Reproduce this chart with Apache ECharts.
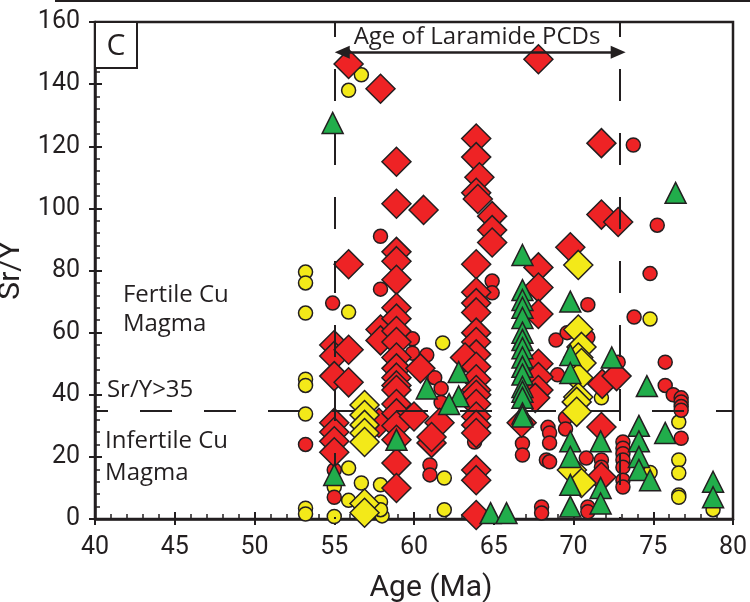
<!DOCTYPE html>
<html><head><meta charset="utf-8">
<script src="https://cdn.jsdelivr.net/npm/echarts@6/dist/echarts.min.js"></script>
<style>html,body{margin:0;padding:0;background:#fff}#c{width:750px;height:602px}</style>
</head><body><div id="c"></div>
<script>
// ---- tick labels ----
const xTickLabels = [40, 45, 50, 55, 60, 65, 70, 75, 80];
const yTickLabels = [0, 20, 40, 60, 80, 100, 120, 140, 160];

// ---- data: [Age (Ma), Sr/Y] ----
const redDiamonds = [
  [55.0,56],[55.0,52.5],[55.0,46],[55.0,31],[55.0,28],[55.0,25],[55.0,21.5],
  [55.9,146.5],[55.9,82],[55.9,54.5],[55.9,44],
  [57.9,138.5],[57.9,61],[57.9,57.5],[57.8,31],
  [58.9,115],[58.9,101.5],[58.9,86],[58.9,83],[58.9,77],[58.9,68],[58.9,64.5],[58.9,60.5],[58.9,57],
  [58.9,52],[58.9,48.5],[58.9,45.5],[58.9,43],[58.9,41.5],[58.9,37],[58.9,34],[58.9,30],[58.9,25.5],[58.9,18],[58.9,10],
  [60.6,99.5],[60.4,48.5],[60.0,33],[61.1,24.5],[61.6,31],[61.1,26.4],
  [63.9,122.5],[63.9,116.5],[64.1,110],[63.9,105],[64.0,103],[63.9,82],[63.9,73],[63.9,69.5],[63.9,66.5],
  [63.9,60],[63.9,57],[63.9,53],[63.2,52],[63.9,49],[63.9,45],[63.9,41.5],[63.9,40],[63.9,37],[63.9,33],
  [63.9,30.3],[63.9,27.7],[63.9,15.8],[63.9,12.5],[63.9,1.3],
  [64.9,97.5],[64.9,93],[64.9,89],
  [66.75,31],
  [67.8,148],[67.8,81],[67.8,74.5],[67.8,66],[67.8,50],[67.8,45.7],[67.8,41.5],[67.6,39],
  [69.8,87.5],
  [71.75,121],[71.75,98],[71.8,43.5],[71.75,29.6],[71.75,13.5],
  [72.8,95.6],[72.7,46]
];
const redCircles = [
  [53.2,24],[54.9,69.5],[55.0,15.8],[55.0,7],[57.9,91],[57.9,74],[59.9,58],[59.9,53.4],[60.8,52.8],
  [61.0,17.4],[61.0,14.2],[61.3,45.5],[61.7,42],[61.7,37.5],[63.8,24.8],[64.9,76.6],[64.9,72.8],
  [66.8,24.3],[66.8,20.6],[68.3,19],[68.0,3.9],[68.0,1.9],[68.4,29.5],[68.5,27.7],[68.5,24.5],[68.5,18.4],
  [70.8,19.6],[70.9,3.9],[70.9,2.3],[69.5,32.5],[69.5,29],[68.9,57.6],[69.6,60],[70.9,58.5],[70.9,69],
  [69.0,46.4],[72.8,50.5],[73.75,120.4],[75.25,94.6],[74.8,79],[73.8,65],[75.75,50.5],[75.75,43],
  [76.25,40],[76.75,39],[76.75,37.7],[76.75,36.2],[76.75,35],[76.75,26],
  [73.1,24.8],[73.1,22.8],[73.1,21],[73.1,19],[73.1,16.7],[73.1,12.5],[73.1,10.3],[71.75,19],[71.75,16.7]
];
const yellowCircles = [
  [53.2,79.5],[53.2,76],[53.2,66.3],[53.2,45],[53.2,43],[53.2,33.8],[53.2,3.5],[53.2,1.6],
  [56.7,143],[55.9,138],[55.9,66.6],[55.0,10.3],[55.0,0.8],[55.9,16.4],[56.7,11.6],[55.9,6],
  [57.9,11],[57.9,5.5],[58.0,1.0],[57.9,3],[61.8,56.7],[61.9,13.2],[61.9,3],[71.75,39],
  [74.8,64.4],[74.8,15],[76.6,31.2],[76.6,19],[76.6,14.8],[76.6,7.7],[76.6,7],[78.75,3]
];
const yellowDiamonds = [
  [56.9,36.7],[56.9,33.5],[56.9,30.3],[56.9,27.7],[56.9,24.8],[56.9,5],[56.9,2],
  [70.3,81.8],[70.3,61],[70.5,55.4],[70.3,52],[70.5,50.2],[70.3,45.5],[70.3,39.3],[70.2,37.7],[70.2,34.5],
  [69.9,15.8],[70.5,11.6]
];
const greenTriangles = [
  [54.9,127.5],[55.0,14.2],[58.9,25.5],[60.8,42],[62.8,47.3],[62.8,39.5],[62.2,37],[64.8,1.9],[65.8,1.9],
  [66.8,85],[66.8,73.7],[66.8,70.5],[66.8,68],[66.8,64.7],[66.8,60],[66.8,57.6],[66.8,55],[66.8,52],
  [66.8,49],[66.8,46.5],[66.8,42.5],[66.8,41],[66.8,39],[66.8,34],[66.8,33],
  [69.8,70],[69.8,52.8],[69.8,47],[69.8,25],[69.8,20],[69.8,11],[69.8,4],
  [72.4,52],[71.7,25],[71.7,10],[71.7,5],
  [74.1,30],[74.1,25],[74.1,20],[74.1,15.8],[74.8,12.5],[74.6,42.8],[75.75,27.7],
  [78.75,12],[78.75,7],[76.4,105]
];

// ---- reference lines / annotation anchors (data units) ----
const laramideStart = 55, laramideEnd = 72.9, srYThreshold = 35;

const INK = '#231f20';
const NARROW = "'Roboto','Open Sans',sans-serif";
const SANS = "'Open Sans','Noto Sans',sans-serif";

const chart = echarts.init(document.getElementById('c'), null, {renderer: 'canvas'});

function ptStyle(color) {
  return {color: color, borderColor: INK, borderWidth: 1.5, opacity: 1};
}

const option = {
  animation: false,
  backgroundColor: '#fff',
  grid: {left: 95, right: 17, top: 22, bottom: 83, containLabel: false, outerBoundsMode: 'none',
         show: true, borderColor: INK, borderWidth: 2.5, backgroundColor: 'transparent'},
  xAxis: [{
    type: 'value', min: xTickLabels[0], max: xTickLabels[xTickLabels.length-1], interval: 5,
    axisLine: {show: true, onZero: false, lineStyle: {color: INK, width: 2.5}},
    axisTick: {show: true, inside: true, length: 7, lineStyle: {color: INK, width: 2}},
    minorTick: {show: true, splitNumber: 5, length: 5, lineStyle: {color: INK, width: 1.5}},
    splitLine: {show: false},
    axisLabel: {fontFamily: NARROW, fontSize: 25, color: INK, margin: 16},
    name: 'Age (Ma)', nameLocation: 'middle', nameGap: 54,
    nameTextStyle: {fontFamily: NARROW, fontSize: 30, color: INK, padding: [0, 0, 0, 34]}
  }, {
    type: 'value', min: xTickLabels[0], max: xTickLabels[xTickLabels.length-1], interval: 5, position: 'bottom',
    axisLine: {show: false}, axisTick: {show: true, inside: false, length: 6, lineStyle: {color: INK, width: 2}},
    axisLabel: {show: false}, splitLine: {show: false}
  }],
  yAxis: [{
    type: 'value', min: yTickLabels[0], max: yTickLabels[yTickLabels.length-1], interval: 20,
    axisLine: {show: true, onZero: false, lineStyle: {color: INK, width: 2.5}},
    axisTick: {show: true, inside: true, length: 7, lineStyle: {color: INK, width: 2}},
    minorTick: {show: true, splitNumber: 5, length: 5, lineStyle: {color: INK, width: 1.5}},
    splitLine: {show: false},
    axisLabel: {fontFamily: NARROW, fontSize: 25, color: INK, margin: 15},
    name: 'Sr/Y', nameLocation: 'middle', nameGap: 52,
    nameTextStyle: {fontFamily: NARROW, fontSize: 30, color: INK}
  }, {
    type: 'value', min: yTickLabels[0], max: yTickLabels[yTickLabels.length-1], interval: 20, position: 'left',
    axisLine: {show: false}, axisTick: {show: true, inside: false, length: 6, lineStyle: {color: INK, width: 2}},
    axisLabel: {show: false}, splitLine: {show: false}
  }],
  series: [
    {
      type: 'scatter', data: [], z: 1, silent: true,
      markLine: {
        silent: true, symbol: 'none', animation: false,
        label: {show: false},
        data: [
          {xAxis: laramideStart, lineStyle: {color: INK, width: 2, type: [32, 32], dashOffset: 30}},
          {xAxis: laramideEnd, lineStyle: {color: INK, width: 2, type: [32, 32], dashOffset: 30}},
          {yAxis: srYThreshold, lineStyle: {color: INK, width: 2, type: [32, 32], dashOffset: 19}}
        ]
      }
    },
    {
      type: 'scatter', data: [], z: 1, silent: true,
      markLine: {
        silent: true, animation: false, symbol: ['triangle', 'triangle'], symbolSize: [13, 15],
        lineStyle: {color: INK, width: 2.5, type: 'solid'},
        label: {show: false},
        data: [[{coord: [55.5, 150.3]}, {coord: [72.8, 150.3]}]]
      }
    },
    {type: 'scatter', name: 'yc', data: yellowCircles, symbol: 'circle', symbolSize: 14, itemStyle: ptStyle('#F3E919'), z: 2},
    {type: 'scatter', name: 'rc', data: redCircles, symbol: 'circle', symbolSize: 14, itemStyle: ptStyle('#EE2325'), z: 3},
    {type: 'scatter', name: 'rd', data: redDiamonds, symbol: 'diamond', symbolSize: 29, itemStyle: ptStyle('#EE2325'), z: 4},
    {type: 'scatter', name: 'yd', data: yellowDiamonds, symbol: 'diamond', symbolSize: 29, itemStyle: ptStyle('#F3E919'), z: 5},
    {type: 'scatter', name: 'gt', data: greenTriangles, symbol: 'triangle', symbolSize: 21, itemStyle: ptStyle('#21AD4B'), z: 6}
  ]
};
chart.setOption(option);

function px(x, y) { return chart.convertToPixel({gridIndex: 0}, [x, y]); }
const corner = px(40, 160);
const txt = (x, y, text, size, align, vAlign) => {
  const p = px(x, y);
  return {type: 'text', x: p[0], y: p[1], z: 10, style: {text: text, font: '400 ' + size + 'px ' + SANS, fill: INK, align: align || 'left', verticalAlign: vAlign || 'middle'}};
};
chart.setOption({
  graphic: [
    {type: 'line', shape: {x1: 55, y1: 1, x2: 750, y2: 1}, style: {stroke: INK, lineWidth: 2}},
    {type: 'rect', shape: {x: corner[0], y: corner[1], width: 42, height: 46}, style: {fill: '#fff', stroke: INK, lineWidth: 2}, z: 10},
    {type: 'text', x: corner[0] + 21, y: corner[1] + 24, z: 11, style: {text: 'C', font: '400 30px ' + SANS, fill: INK, align: 'center', verticalAlign: 'middle'}},
    txt(63.95, 155, 'Age of Laramide PCDs', 24, 'center'),
    txt(41.75, 72.1, 'Fertile Cu', 24),
    txt(41.75, 62.8, 'Magma', 24),
    txt(40.75, 41.5, 'Sr/Y>35', 24),
    txt(40.63, 25.1, 'Infertile Cu', 24),
    txt(40.63, 14.8, 'Magma', 24)
  ]
});
</script>
</body></html>
